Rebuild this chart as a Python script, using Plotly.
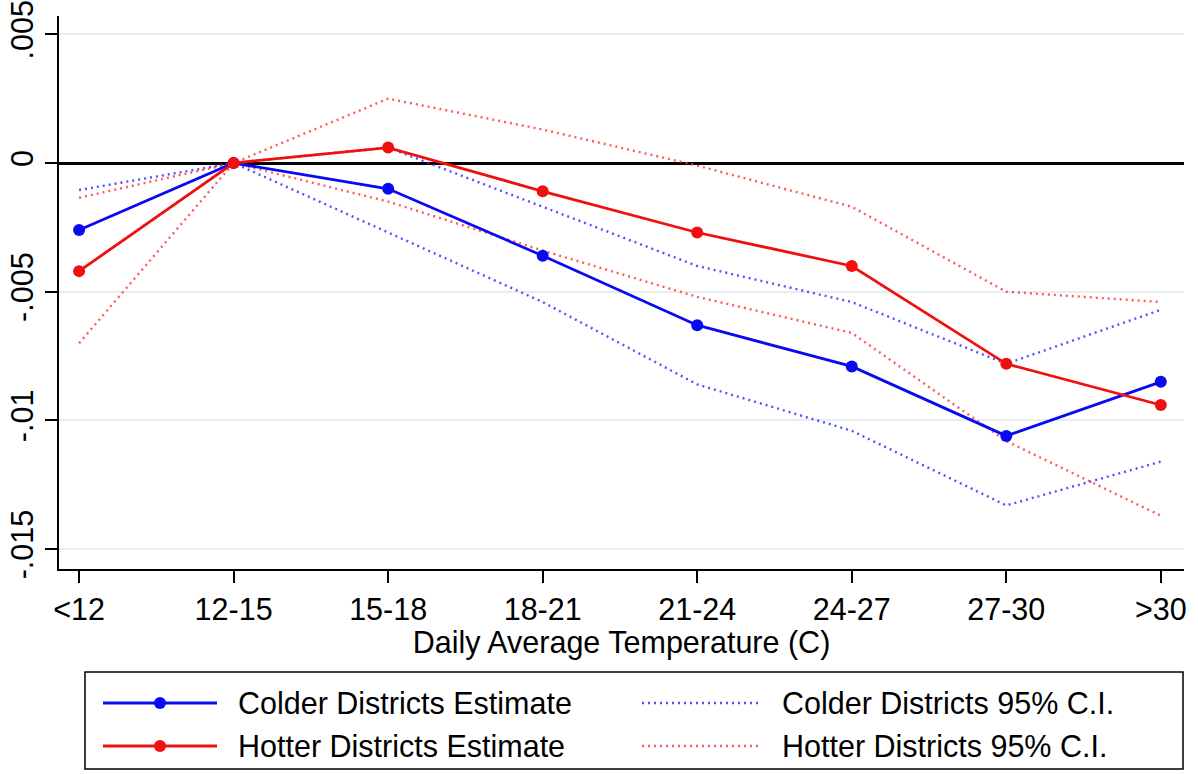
import plotly.graph_objects as go

categories = ["<12", "12-15", "15-18", "18-21", "21-24", "24-27", "27-30", ">30"]
colder_est = [-0.0026, 0.0, -0.0010, -0.0036, -0.0063, -0.0079, -0.0106, -0.0085]
hotter_est = [-0.0042, 0.0, 0.0006, -0.0011, -0.0027, -0.0040, -0.0078, -0.0094]
colder_hi = [-0.00105, 0.0, 0.0006, -0.0017, -0.0040, -0.0054, -0.0078, -0.0057]
colder_lo = [-0.0042, 0.0, -0.0027, -0.0054, -0.0086, -0.0104, -0.0133, -0.0116]
hotter_hi = [-0.00135, 0.0, 0.0025, 0.0013, -0.0001, -0.0017, -0.0050, -0.0054]
hotter_lo = [-0.0070, 0.0, -0.0015, -0.0034, -0.0052, -0.0066, -0.0108, -0.0137]

y_tickvals = [0.005, 0.0, -0.005, -0.01, -0.015]
y_ticktext = [".005", "0", "-.005", "-.01", "-.015"]

legend_labels = ["Colder Districts Estimate", "Hotter Districts Estimate",
                 "Colder Districts 95% C.I.", "Hotter Districts 95% C.I."]

BLUE = "#0a0af0"
RED = "#f01010"
BLUE_CI = "rgba(50,50,255,0.85)"
RED_CI = "rgba(255,60,60,0.85)"
FONT = "Liberation Sans, Arial, Helvetica, sans-serif"
FS = 30.5
CIW = 2.4

W, H = 1198, 774
L, T = 59, 16
R = W - 1184
B = H - 569
PW, PH = W - L - R, H - T - B


def xp(px):  # page pixel -> paper
    return (px - L) / PW


def yp(py):
    return (H - B - py) / PH


fig = go.Figure()

ci_style = dict(mode="lines", showlegend=False, hoverinfo="skip")
for ys in (colder_hi, colder_lo):
    fig.add_trace(go.Scatter(x=categories, y=ys,
                             line=dict(color=BLUE_CI, width=CIW, dash="2px,4px"), **ci_style))
for ys in (hotter_hi, hotter_lo):
    fig.add_trace(go.Scatter(x=categories, y=ys,
                             line=dict(color=RED_CI, width=CIW, dash="2px,4px"), **ci_style))

fig.add_trace(go.Scatter(x=categories, y=colder_est, mode="lines+markers", showlegend=False,
                         line=dict(color=BLUE, width=2.8), marker=dict(color=BLUE, size=12)))
fig.add_trace(go.Scatter(x=categories, y=hotter_est, mode="lines+markers", showlegend=False,
                         line=dict(color=RED, width=2.8), marker=dict(color=RED, size=12)))

# manual legend (decoration)
shapes = []
annotations = []
shapes.append(dict(type="rect", xref="paper", yref="paper",
                   x0=xp(85), x1=xp(1183), y0=yp(769), y1=yp(672),
                   line=dict(color="black", width=1.5), fillcolor="rgba(0,0,0,0)"))
rows = [703, 746]
for i, (col, lab) in enumerate([(BLUE, legend_labels[0]), (RED, legend_labels[1])]):
    yy = yp(rows[i])
    shapes.append(dict(type="line", xref="paper", yref="paper", x0=xp(103), x1=xp(217),
                       y0=yy, y1=yy, line=dict(color=col, width=2.8)))
    shapes.append(dict(type="circle", xref="paper", yref="paper", xsizemode="pixel",
                       ysizemode="pixel", xanchor=xp(160), yanchor=yy,
                       x0=-6, x1=6, y0=-6, y1=6, fillcolor=col, line=dict(color=col, width=0)))
    annotations.append(dict(x=xp(236), y=yy, xref="paper", yref="paper", text=lab,
                            showarrow=False, xanchor="left", yanchor="middle",
                            font=dict(size=FS, color="black", family=FONT)))
for i, (col, lab) in enumerate([(BLUE_CI, legend_labels[2]), (RED_CI, legend_labels[3])]):
    yy = yp(rows[i])
    shapes.append(dict(type="line", xref="paper", yref="paper", x0=xp(642), x1=xp(760),
                       y0=yy, y1=yy, line=dict(color=col, width=CIW, dash="2px,4px")))
    annotations.append(dict(x=xp(780), y=yy, xref="paper", yref="paper", text=lab,
                            showarrow=False, xanchor="left", yanchor="middle",
                            font=dict(size=FS, color="black", family=FONT)))

fig.update_layout(
    width=W, height=H,
    margin=dict(l=L, r=R, t=T, b=B, autoexpand=False),
    paper_bgcolor="white", plot_bgcolor="white",
    font=dict(family=FONT, size=FS, color="black"),
    showlegend=False,
    shapes=shapes, annotations=annotations,
    xaxis=dict(
        type="category", categoryorder="array", categoryarray=categories,
        range=[-0.13, 7.15], showgrid=False, zeroline=False,
        showline=True, linecolor="black", linewidth=1.8,
        ticks="outside", ticklen=12, tickwidth=1.5, tickcolor="black",
        tickfont=dict(size=FS, family=FONT), ticklabeloverflow="allow",
        title=dict(text="Daily Average Temperature (C)", font=dict(size=FS, family=FONT), standoff=4),
        automargin=False,
    ),
    yaxis=dict(
        range=[-0.01577, 0.00571],
        tickvals=y_tickvals, ticktext=y_ticktext, tickangle=-90,
        showgrid=True, gridcolor="#e6eef0", gridwidth=2,
        zeroline=True, zerolinecolor="black", zerolinewidth=2.5,
        showline=True, linecolor="black", linewidth=1.8,
        ticks="outside", ticklen=12, tickwidth=1.5, tickcolor="black",
        tickfont=dict(size=FS, family=FONT), ticklabeloverflow="allow",
        automargin=False,
    ),
)

fig.write_html("out.html", config={"displayModeBar": False},
               post_script="document.body.style.margin='0px';")
